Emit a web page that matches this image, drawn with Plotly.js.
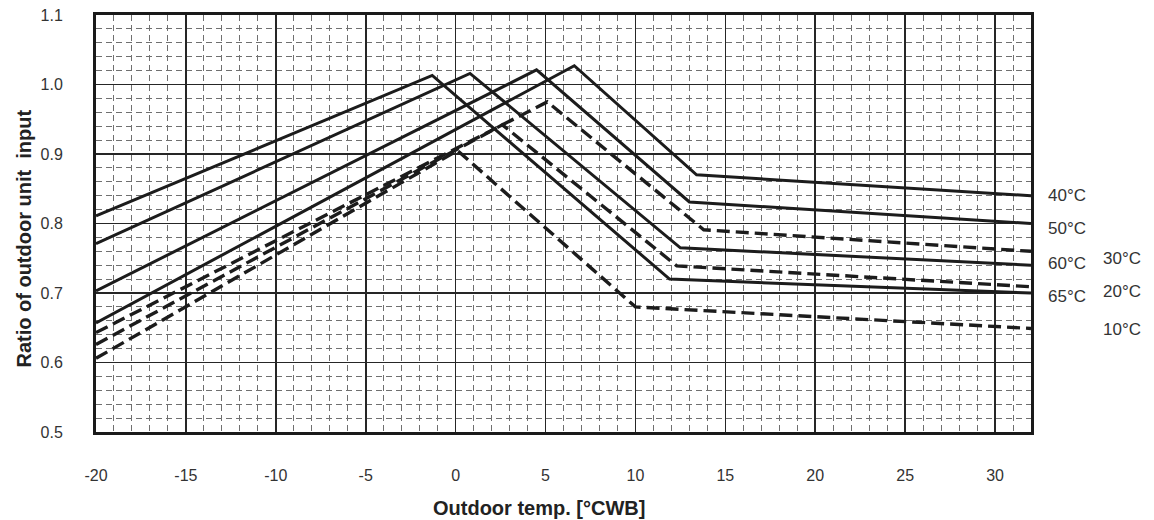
<!DOCTYPE html>
<html>
<head>
<meta charset="utf-8">
<script src="https://cdn.plot.ly/plotly-3.0.1.min.js"></script>
<style>html,body{margin:0;padding:0;background:#fff;}#chart{width:1154px;height:520px;}</style>
</head>
<body>
<div id="chart"></div>
<script>
// Outdoor temperature break points [°CWB] and ratio values per water temperature
const x40 = [-20, 6.6, 13.4, 32];
const y40 = [0.657, 1.027, 0.870, 0.840];
const x50 = [-20, 4.5, 13.0, 32];
const y50 = [0.703, 1.021, 0.831, 0.800];
const x60 = [-20, 0.8, 12.5, 32];
const y60 = [0.771, 1.016, 0.765, 0.740];
const x65 = [-20, -1.3, 11.9, 32];
const y65 = [0.811, 1.013, 0.720, 0.700];
const x30 = [-20, 5.1, 13.8, 32];
const y30 = [0.643, 0.975, 0.791, 0.760];
const x20 = [-20, 2.6, 12.3, 32];
const y20 = [0.626, 0.942, 0.739, 0.709];
const x10 = [-20, 0.1, 10.0, 32];
const y10 = [0.606, 0.905, 0.680, 0.649];

const solidNames = ['40°C', '50°C', '60°C', '65°C'];
const dashNames = ['30°C', '20°C', '10°C'];
const xTickVals = [-20, -15, -10, -5, 0, 5, 10, 15, 20, 25, 30];
const xTickText = ['-20', '-15', '-10', '-5', '0', '5', '10', '15', '20', '25', '30'];
const yTickVals = [0.5, 0.6, 0.7, 0.8, 0.9, 1.0, 1.1];
const yTickText = ['0.5', '0.6', '0.7', '0.8', '0.9', '1.0', '1.1'];
const xTitle = 'Outdoor temp. [°CWB]';
const yTitle = 'Ratio of outdoor unit\u00a0\u00a0input';

const solidX = [x40, x50, x60, x65], solidY = [y40, y50, y60, y65];
const dashX = [x30, x20, x10], dashY = [y30, y20, y10];

const traces = [];
solidNames.forEach((n, i) => traces.push({
  x: solidX[i], y: solidY[i], name: n, mode: 'lines', type: 'scatter',
  line: {color: '#1c1c1c', width: 3}, hoverinfo: 'skip'
}));
dashNames.forEach((n, i) => traces.push({
  x: dashX[i], y: dashY[i], name: n, mode: 'lines', type: 'scatter',
  line: {color: '#1c1c1c', width: 3.4, dash: '13px,6px'}, hoverinfo: 'skip'
}));

const FONT = 'Liberation Sans, Arial, sans-serif';
const solidLabelY = [0.568, 0.487, 0.405, 0.324];
const dashLabelY = [0.417, 0.336, 0.245];
const annotations = [];
solidNames.forEach((n, i) => annotations.push({
  xref: 'paper', yref: 'paper', x: 1.016, y: solidLabelY[i], xanchor: 'left', yanchor: 'middle',
  text: n, showarrow: false, font: {family: FONT, size: 17, color: '#333'}
}));
dashNames.forEach((n, i) => annotations.push({
  xref: 'paper', yref: 'paper', x: 1.075, y: dashLabelY[i], xanchor: 'left', yanchor: 'middle',
  text: n, showarrow: false, font: {family: FONT, size: 17, color: '#333'}
}));
annotations.push({
  xref: 'paper', yref: 'paper', x: 0.474, y: -0.182, xanchor: 'center', yanchor: 'middle',
  text: xTitle, showarrow: false, font: {family: FONT, size: 20, color: '#222', weight: 'bold'}
});
annotations.push({
  xref: 'paper', yref: 'paper', x: -0.0765, y: 0.465, xanchor: 'center', yanchor: 'middle', textangle: -90,
  text: yTitle, showarrow: false, font: {family: FONT, size: 20, color: '#222', weight: 'bold'}
});

const layout = {
  width: 1154, height: 520,
  margin: {l: 96, r: 123, t: 15, b: 88},
  paper_bgcolor: '#fff', plot_bgcolor: '#fff',
  showlegend: false,
  font: {family: FONT, size: 16, color: '#333'},
  xaxis: {
    range: [-20, 32], tickvals: xTickVals, ticktext: xTickText, ticks: '', ticklabelstandoff: 27,
    showgrid: true, gridcolor: '#262626', gridwidth: 1.6,
    minor: {dtick: 1, tick0: -20, showgrid: true, gridcolor: '#707070', gridwidth: 1, griddash: '6px,4px', ticks: ''},
    showline: true, mirror: true, linecolor: '#1a1a1a', linewidth: 3, zeroline: false
  },
  yaxis: {
    range: [0.5, 1.1], tickvals: yTickVals, ticktext: yTickText, ticks: '', ticklabelstandoff: 27,
    showgrid: true, gridcolor: '#262626', gridwidth: 1.6,
    minor: {dtick: 0.02, tick0: 0.5, showgrid: true, gridcolor: '#707070', gridwidth: 1, griddash: '6px,4px', ticks: ''},
    showline: true, mirror: true, linecolor: '#1a1a1a', linewidth: 3, zeroline: false
  },
  annotations: annotations
};

Plotly.newPlot('chart', traces, layout, {staticPlot: true, displayModeBar: false});
</script>
</body>
</html>
